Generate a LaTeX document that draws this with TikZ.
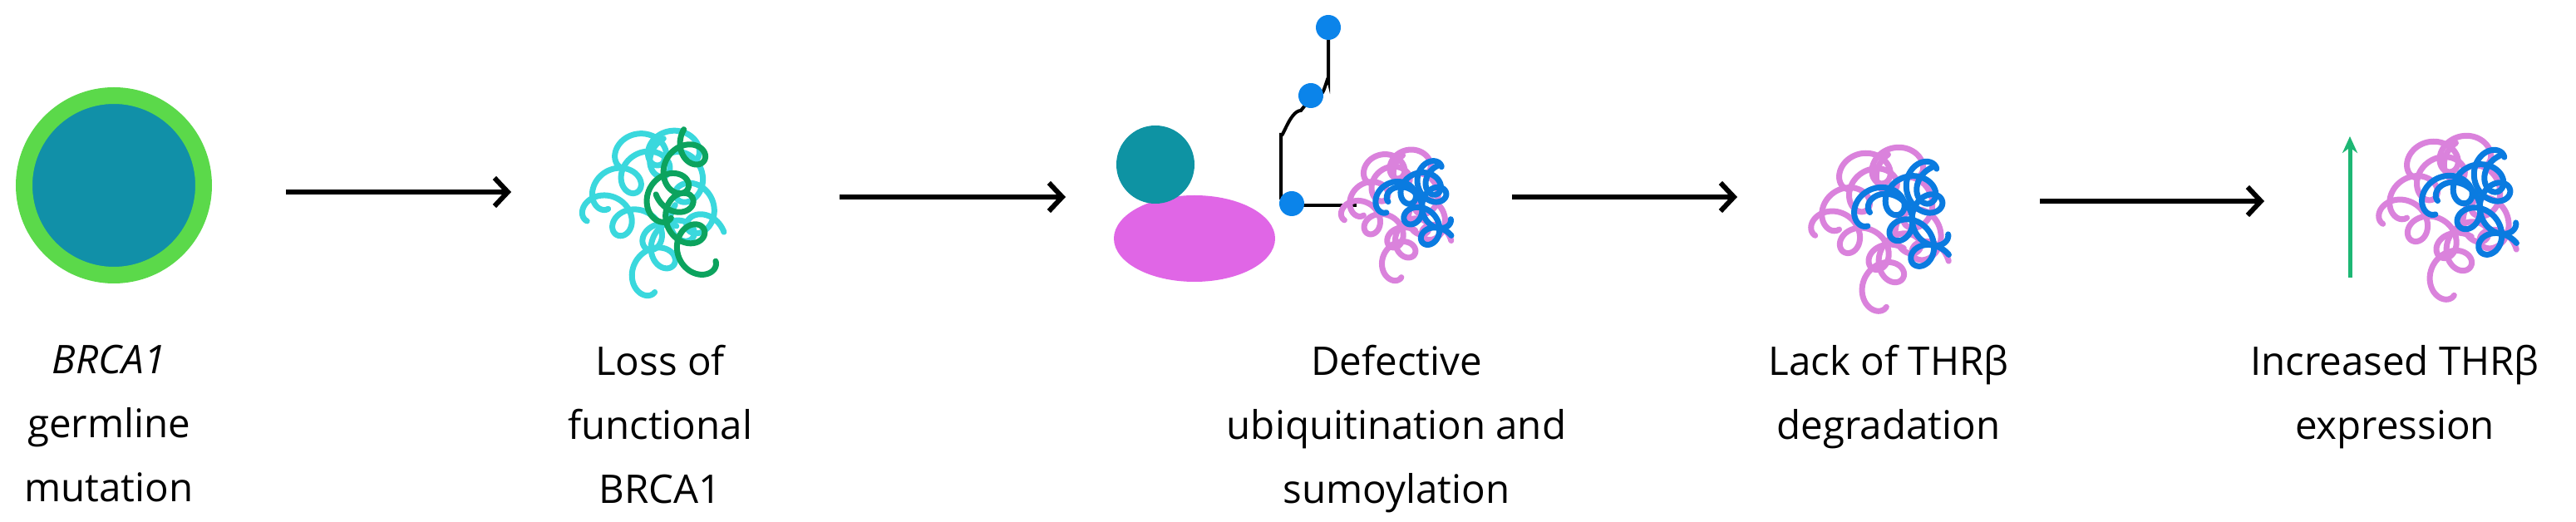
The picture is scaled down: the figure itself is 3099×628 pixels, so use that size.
\documentclass[tikz,border=0pt]{standalone}
\usepackage{fontspec}
\setmainfont{Open Sans}
\usetikzlibrary{arrows.meta,shapes.geometric}
\definecolor{ring}{HTML}{5BD94A}
\definecolor{tealA}{HTML}{1190A8}
\definecolor{tealB}{HTML}{0E93A3}
\definecolor{cyanS}{HTML}{3AD8DD}
\definecolor{greenS}{HTML}{0CA35E}
\definecolor{pinkS}{HTML}{DA82DC}
\definecolor{blueS}{HTML}{0A7BE0}
\definecolor{pinkE}{HTML}{E066E6}
\definecolor{dotB}{HTML}{0B84EA}
\definecolor{upG}{HTML}{1DB774}
% color, x, y (centre), rot, turns
\newcommand\mystrand[5]{%
  \begin{scope}[shift={(#2,#3)},rotate=#4]
  \draw[#1,line width=7*0.01cm,line cap=round]
    plot[variable=\t,domain=0:#5*360,samples=140,smooth]
    ({(\t/360-#5/2)*40-20*sin(\t)},{20*cos(\t)});
  \end{scope}}
\newcommand\thrcluster{%
  \mystrand{pinkS}{-35}{-30}{35}{2.5}
  \mystrand{pinkS}{-40}{30}{-30}{2.5}
  \mystrand{pinkS}{0}{55}{60}{2.5}
  \mystrand{pinkS}{35}{10}{-75}{2.5}
  \mystrand{pinkS}{-15}{-60}{10}{2}
  \mystrand{blueS}{10}{-25}{20}{2.5}
  \mystrand{blueS}{20}{20}{-50}{2.5}
  \mystrand{blueS}{40}{-15}{100}{2}}
\begin{document}
\begin{tikzpicture}[x=0.01cm,y=-0.01cm,
  flow/.style={line width=6*0.01cm,-{Straight Barb[length=16*0.01cm,width=34*0.01cm,line width=6*0.01cm]}},
  lbl/.style={align=center,anchor=north,inner sep=0pt,font=\fontsize{13.5pt}{21.9pt}\selectfont},
  dot/.style={circle,fill=dotB,inner sep=0pt,minimum size=30*0.01cm}]
\useasboundingbox (0,0) rectangle (3099,628);
% stage 1
\node[circle,fill=tealA,draw=ring,line width=20*0.01cm,minimum size=216*0.01cm,inner sep=0pt] (cell) at (137,223) {};
% stage 2 cluster
\begin{scope}[shift={(800,244)}]
  \mystrand{cyanS}{-35}{-35}{30}{2.5}
  \mystrand{cyanS}{-40}{25}{-25}{2.5}
  \mystrand{cyanS}{0}{55}{55}{2.5}
  \mystrand{cyanS}{35}{-5}{-70}{2.5}
  \mystrand{cyanS}{-10}{-65}{5}{2}
  \mystrand{greenS}{15}{-35}{60}{2.5}
  \mystrand{greenS}{25}{30}{110}{2.5}
\end{scope}
\coordinate (c2) at (800,244);
% stage 3
\node[ellipse,fill=pinkE,minimum width=194*0.01cm,minimum height=104*0.01cm,inner sep=0pt] (e) at (1437,287) {};
\node[circle,fill=tealB,minimum size=94*0.01cm,inner sep=0pt] (tc) at (1390,198) {};
\draw[line width=4*0.01cm] (1541,240) -- (1541,160) to[out=-90,in=180] (1565,133) -- (1577,118);
\draw[line width=4*0.01cm] (1588,112) to[out=-60,in=90] (1598,95) -- (1598,35);
\draw[line width=4*0.01cm] (1554,247) -- (1632,247);
\node[dot] (d1) at (1554,245) {};
\node[dot] (d2) at (1577,115) {};
\node[dot] (d3) at (1598,33) {};
\begin{scope}[shift={(1692,247)},scale=0.8]\thrcluster\end{scope}
\coordinate (c3) at (1692,247);
% stage 4
\begin{scope}[shift={(2277,261)}]\thrcluster\end{scope}
\coordinate (c4) at (2277,261);
% stage 5
\begin{scope}[shift={(2960,247)}]\thrcluster\end{scope}
\coordinate (c5) at (2960,247);
\coordinate (u1) at (2827,334);
\coordinate (u2) at (2827,164);
\draw[upG,line width=5*0.01cm,-{Stealth[length=20*0.01cm,width=18*0.01cm]}] (u1) -- (u2);
% arrows
\coordinate (a1s) at (344,231); \coordinate (a1e) at (615,231);
\coordinate (a2s) at (1010,237); \coordinate (a2e) at (1282,237);
\coordinate (a3s) at (1819,237); \coordinate (a3e) at (2090,237);
\coordinate (a4s) at (2454,242); \coordinate (a4e) at (2724,242);
\draw[flow] (a1s) -- (a1e);
\draw[flow] (a2s) -- (a2e);
\draw[flow] (a3s) -- (a3e);
\draw[flow] (a4s) -- (a4e);
% labels
\node[lbl] (t1) at (131,414) {\textit{BRCA1}\\germline\\mutation};
\node[lbl] (t2) at (794,414) {Loss of\\functional\\BRCA1};
\node[lbl] (t3) at (1680,414) {Defective\\ubiquitination and\\sumoylation};
\node[lbl] (t4) at (2272,414) {Lack of THRβ\\degradation};
\node[lbl] (t5) at (2881,414) {Increased THRβ\\expression};
\end{tikzpicture}
\end{document}
